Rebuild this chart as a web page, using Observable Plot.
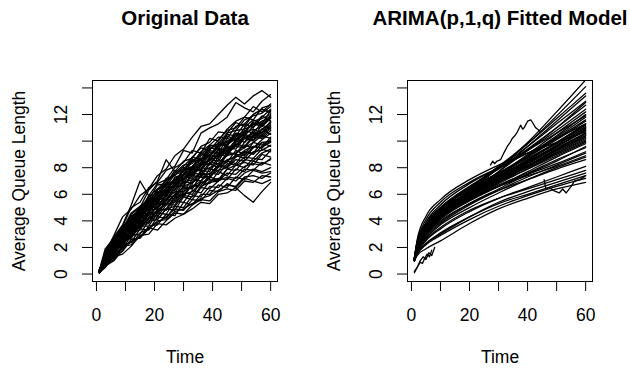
<!DOCTYPE html>
<html><head><meta charset="utf-8">
<script src="https://cdn.jsdelivr.net/npm/d3@7"></script>
<script src="https://cdn.jsdelivr.net/npm/@observablehq/plot@0.6"></script>
<style>
body{margin:0;background:#fff;}
#chart{display:flex;width:630px;height:369px;background:#fff;}
</style></head><body><div id="chart"></div>
<script>
// ---- Titles & axis text ----
const leftTitle = "Original Data";
const rightTitle = "ARIMA(p,1,q) Fitted Model";
const xTitle = "Time";
const yTitle = "Average Queue Length";
const xTicks = [0, 10, 20, 30, 40, 50, 60];
const xTickLabels = [0, 20, 40, 60];
const yTicks = [0, 2, 4, 6, 8, 10, 12, 14];
const yTickLabels = [0, 2, 4, 6, 8, 12];

// ---- Original data (read at every 3 time units) ----
const obsTimes = [1,3,6,9,12,15,18,21,24,27,30,33,36,39,42,45,48,51,54,57,60];
const obs01 = [0.2,1.6,2.9,4.3,4.9,5.9,6.4,7.4,7.9,8.9,9.4,10.3,11.1,11.3,12.0,12.7,13.3,12.8,13.4,13.8,13.3];
const obs02 = [0.3,1.9,2.7,3.6,5.0,5.4,6.5,6.9,7.8,8.1,9.3,9.1,10.6,11.0,11.3,11.8,12.9,12.5,12.2,13.0,13.5];
const obs03 = [0.2,1.3,2.8,3.7,5.2,7.0,5.9,6.8,7.1,8.0,8.4,9.3,9.1,10.2,10.0,10.9,11.5,11.8,12.6,12.2,12.8];
const obs04 = [0.1,1.2,2.5,3.3,4.5,5.0,6.3,7.0,8.6,7.7,8.5,8.7,9.6,9.9,10.7,10.6,11.4,11.1,12.0,12.4,12.1];
const obs05 = [0.2,1.4,2.1,3.5,3.9,5.1,5.3,6.4,6.6,7.5,7.7,8.6,8.5,9.5,9.4,10.4,10.1,11.0,11.6,11.3,12.3];
const obs06 = [0.3,1.2,2.4,2.9,4.2,4.4,5.7,5.7,6.8,7.0,7.8,8.0,9.1,8.8,9.9,9.7,10.8,10.9,11.2,11.9,11.5];
const obs07 = [0.2,1.0,2.2,3.4,3.6,4.8,5.0,6.1,6.2,7.1,7.2,7.9,8.1,9.0,8.8,9.7,10.2,9.9,10.8,11.1,11.7];
const obs08 = [0.1,1.3,1.9,3.1,4.0,4.3,5.3,5.6,6.5,6.5,7.6,7.6,8.4,8.9,9.5,9.2,10.0,10.5,10.3,11.2,10.9];
const obs09 = [0.2,0.9,2.3,2.7,3.8,4.6,4.8,5.9,5.9,6.9,6.8,7.9,7.8,8.6,8.5,9.5,9.4,10.2,10.6,10.4,11.3];
const obs10 = [0.3,1.1,1.8,3.0,3.4,4.1,5.2,5.3,6.4,6.3,7.4,7.2,8.3,8.2,9.0,8.9,9.8,9.6,10.4,10.9,10.5];
const obs11 = [0.2,1.2,2.0,2.6,3.7,3.9,4.7,5.7,5.6,6.6,6.7,7.4,7.3,8.3,8.0,9.0,9.1,9.7,9.5,10.1,10.6];
const obs12 = [0.1,0.8,2.1,2.8,3.2,4.2,4.4,5.1,5.9,5.8,7.0,6.8,7.8,7.7,8.6,8.4,9.3,9.0,9.9,9.7,10.1];
const obs13 = [0.2,1.0,1.6,2.5,3.5,3.7,4.8,4.9,5.6,6.2,6.2,7.1,7.0,7.9,7.8,8.5,8.9,8.7,9.5,9.9,9.6];
const obs14 = [0.2,1.1,1.7,2.8,3.0,4.0,4.2,5.3,5.2,6.0,6.5,6.4,7.4,7.3,8.1,8.0,8.8,9.2,9.0,9.6,9.9];
const obs15 = [0.1,0.7,1.9,2.3,3.3,3.5,4.5,4.6,5.5,5.5,6.4,6.5,7.0,7.6,7.5,8.3,8.2,8.8,8.7,9.4,9.2];
const obs16 = [0.3,0.9,1.5,2.5,2.8,3.8,3.9,4.8,4.9,5.8,5.8,6.7,6.5,7.3,7.1,7.9,8.2,8.0,8.7,8.6,9.3];
const obs17 = [0.2,0.8,1.8,2.1,3.1,3.3,4.3,4.3,5.2,5.2,6.1,6.0,6.9,6.8,7.7,7.4,8.2,8.4,8.2,9.0,8.8];
const obs18 = [0.2,1.0,1.4,2.4,2.7,3.6,3.6,4.6,4.5,5.5,5.4,6.3,6.1,7.0,7.2,7.1,7.9,7.7,8.5,8.3,8.6];
const obs19 = [0.1,0.6,1.6,1.9,2.9,3.0,4.0,4.1,4.9,4.8,5.8,5.6,6.5,6.4,7.0,7.3,7.2,7.9,7.8,8.4,8.2];
const obs20 = [0.2,0.8,1.2,2.2,2.4,3.4,3.3,4.3,4.2,5.1,5.0,5.9,5.8,6.6,6.5,7.2,7.0,7.6,7.9,7.7,8.0];
const obs21 = [0.2,0.5,1.4,1.7,2.6,2.7,3.6,3.7,4.5,4.4,5.4,5.2,6.0,6.0,6.7,6.5,7.3,7.1,7.8,7.6,7.7];
const obs22 = [0.1,0.7,1.1,2.0,2.4,2.8,3.5,3.3,4.0,4.6,4.5,5.2,5.6,5.5,6.2,6.4,6.3,7.0,6.9,7.4,7.3];
const obs23 = [0.1,0.5,1.3,1.5,2.1,2.9,3.0,3.8,3.7,4.2,4.5,4.9,5.4,5.3,6.0,6.1,6.5,5.9,5.4,6.2,6.9];
const obs24 = [0.2,0.6,1.0,1.8,2.6,2.7,3.4,3.9,4.3,4.9,4.8,5.6,5.5,6.3,6.2,6.8,6.5,7.2,7.0,6.8,7.1];
const obs25 = [0.2,1.5,2.6,3.2,4.4,4.7,5.9,6.0,7.2,7.4,8.1,8.8,8.6,9.7,9.6,10.5,10.4,11.3,11.0,11.8,12.4];
const obs26 = [0.3,1.0,2.4,3.3,3.8,4.9,5.5,5.9,6.9,6.8,8.0,7.8,8.9,9.3,9.1,10.2,10.0,10.7,11.4,11.2,11.9];
const obs27 = [0.2,1.3,1.8,2.9,3.9,4.1,5.0,5.9,6.0,6.9,7.5,7.4,8.2,8.6,9.3,9.0,9.9,10.3,10.1,10.9,11.4];
const obs28 = [0.1,1.2,2.0,3.0,3.4,4.5,4.6,5.5,6.2,6.1,7.1,7.6,7.5,8.4,8.3,9.1,9.6,9.5,10.3,10.2,10.8];
const obs29 = [0.2,0.9,1.7,2.6,3.3,3.6,4.6,4.7,5.3,6.0,5.9,6.9,7.3,7.2,8.1,8.5,8.3,9.2,9.1,9.9,10.0];
const obs30 = [0.2,1.1,1.6,2.7,2.9,3.9,4.5,4.4,5.6,5.7,6.6,6.4,7.5,7.5,8.2,8.1,9.0,8.9,9.6,9.5,10.3];
const obs31 = [0.1,0.8,1.9,2.2,3.1,3.7,3.8,4.9,4.8,5.7,6.0,6.2,6.9,7.1,7.0,7.9,7.8,8.6,8.5,9.1,9.4];
const obs32 = [0.3,1.4,2.3,3.2,3.5,4.6,5.1,5.0,6.1,6.7,6.6,7.6,8.0,7.9,8.8,9.2,9.0,9.9,10.5,10.3,11.0];
const obs33 = [0.2,1.1,2.5,3.6,4.2,4.5,5.6,6.2,6.1,7.3,7.5,8.5,8.3,9.4,9.8,9.6,10.6,10.5,11.5,11.7,12.0];
const obs34 = [0.2,1.7,2.7,3.4,4.6,5.1,5.6,6.7,6.8,7.8,7.7,8.8,9.5,9.3,10.1,10.8,11.0,11.8,11.6,12.5,12.7];
const obs35 = [0.1,1.0,1.6,2.4,3.0,3.5,4.2,4.1,4.9,5.1,5.9,5.8,6.6,6.9,7.0,7.6,7.5,8.1,8.3,8.2,8.7];
const obs36 = [0.2,0.7,1.3,2.1,2.2,3.1,3.4,4.0,4.1,4.7,4.9,5.3,5.7,5.9,6.3,6.7,6.6,7.3,7.4,7.2,7.6];
const obs37 = [0.2,1.3,2.2,3.3,3.9,4.8,5.2,6.0,6.7,6.9,7.8,8.1,8.6,9.0,9.6,9.9,10.5,10.4,11.1,11.5,11.8];
const obs38 = [0.3,1.0,2.0,2.9,3.8,4.4,4.9,5.8,6.0,6.8,7.2,7.5,8.2,8.3,9.1,9.3,9.7,10.2,10.0,10.7,11.1];
const obs39 = [0.1,1.4,2.3,3.0,4.1,4.4,5.4,5.5,6.5,7.1,7.0,8.0,8.4,8.5,9.4,9.3,10.1,10.6,10.9,10.6,11.5];
const obs40 = [0.2,0.9,1.8,2.8,3.2,4.2,4.6,5.4,5.5,6.4,6.9,7.1,7.7,8.0,8.3,8.9,9.1,9.5,9.9,10.4,10.2];
const obs41 = [0.2,1.2,2.3,2.9,3.6,4.5,5.2,5.5,6.5,6.6,7.5,7.9,8.3,9.2,9.0,9.8,10.3,10.8,10.6,11.4,11.9];
const obs42 = [0.3,1.5,2.4,3.5,4.0,5.0,5.4,6.3,6.8,7.6,7.9,8.5,9.0,9.6,9.8,10.6,10.8,11.6,11.9,12.1,12.6];
const obs43 = [0.1,1.1,1.8,2.5,3.4,3.8,4.5,5.0,5.7,5.9,6.6,6.9,7.6,7.5,8.2,8.6,8.8,9.3,9.6,9.5,10.0];
const obs44 = [0.2,1.0,2.0,3.1,3.5,4.3,5.0,5.3,6.3,6.6,7.2,7.7,7.9,8.8,8.9,9.5,9.7,10.4,10.3,10.9,11.2];
const obs45 = [0.2,1.6,2.6,3.4,4.3,4.9,5.8,6.4,7.0,7.6,8.2,8.3,9.2,9.7,10.3,10.2,11.1,11.3,12.0,12.4,12.2];
const obs46 = [0.1,0.8,1.7,2.3,3.1,3.6,4.1,4.8,5.3,5.4,6.2,6.6,6.7,7.4,7.8,8.0,8.6,8.5,9.2,9.3,9.7];
const obs47 = [0.3,1.2,2.1,3.0,3.9,4.1,5.1,5.6,5.8,6.8,7.1,7.7,7.8,8.7,8.7,9.6,9.6,10.2,10.7,10.5,11.0];
const obs48 = [0.2,1.3,2.6,3.1,4.3,4.6,5.3,6.1,6.4,7.2,7.5,8.1,8.7,8.9,9.7,10.0,10.4,10.7,11.3,11.1,11.8];
const observed = [obs01,obs02,obs03,obs04,obs05,obs06,obs07,obs08,obs09,obs10,obs11,obs12,
  obs13,obs14,obs15,obs16,obs17,obs18,obs19,obs20,obs21,obs22,obs23,obs24,
  obs25,obs26,obs27,obs28,obs29,obs30,obs31,obs32,obs33,obs34,obs35,obs36,
  obs37,obs38,obs39,obs40,obs41,obs42,obs43,obs44,obs45,obs46,obs47,obs48];

// ---- Fitted model curves ----
const fitTimes = [1,2,5,10,20,30,40,50,60];
const fit01 = [1.05,2.6,4.35,5.6,7.1,8.2,9.1,9.9,10.7];
const fit02 = [1.1,2.4,4.1,5.4,6.9,8.0,9.1,10.2,11.3];
const fit03 = [1.0,2.3,3.9,5.2,6.8,8.0,9.3,10.6,11.9];
const fit04 = [1.1,2.2,3.8,5.0,6.6,7.9,9.3,10.8,12.4];
const fit05 = [1.0,1.8,3.1,4.4,6.2,8.0,9.9,12.2,14.6];
const fit06 = [1.1,1.9,3.2,4.5,6.3,8.0,9.8,11.9,14.1];
const fit07 = [1.0,2.0,3.4,4.7,6.5,8.1,9.8,11.7,13.6];
const fit08 = [1.1,1.8,3.0,4.2,6.0,7.7,9.6,11.5,13.4];
const fit09 = [1.0,2.1,3.5,4.8,6.5,8.0,9.6,11.3,13.0];
const fit10 = [1.2,2.2,3.6,4.9,6.5,7.9,9.4,11.0,12.7];
const fit11 = [1.0,1.9,3.2,4.5,6.2,7.7,9.3,11.0,12.9];
const fit12 = [1.1,2.3,3.6,4.9,6.4,7.6,8.9,10.3,11.8];
const fit13 = [1.0,2.2,3.4,4.7,6.2,7.5,8.8,10.1,11.5];
const fit14 = [1.2,2.5,3.8,5.0,6.5,7.6,8.7,9.9,11.1];
const fit15 = [1.0,2.1,3.3,4.5,6.0,7.3,8.6,9.9,11.3];
const fit16 = [1.1,2.4,3.7,4.9,6.3,7.4,8.5,9.6,10.8];
const fit17 = [1.0,2.0,3.2,4.3,5.8,7.1,8.4,9.7,11.0];
const fit18 = [1.1,2.3,3.5,4.7,6.1,7.2,8.3,9.4,10.5];
const fit19 = [1.0,2.1,3.3,4.4,5.8,7.0,8.1,9.3,10.4];
const fit20 = [1.2,2.4,3.6,4.8,6.1,7.1,8.0,9.0,10.0];
const fit21 = [1.0,2.0,3.1,4.2,5.6,6.8,7.9,9.1,10.2];
const fit22 = [1.1,2.2,3.4,4.5,5.8,6.9,7.9,8.9,9.9];
const fit23 = [1.0,1.9,3.0,4.1,5.5,6.6,7.7,8.8,9.8];
const fit24 = [1.1,2.1,3.2,4.3,5.6,6.7,7.6,8.6,9.5];
const fit25 = [1.0,1.9,2.9,3.9,5.3,6.4,7.5,8.5,9.6];
const fit26 = [1.1,2.2,3.3,4.4,5.6,6.6,7.5,8.3,9.2];
const fit27 = [1.0,1.8,2.8,3.8,5.2,6.3,7.3,8.2,9.1];
const fit28 = [1.2,2.3,3.4,4.5,5.7,6.6,7.4,8.1,8.9];
const fit29 = [1.0,1.8,2.7,3.7,5.0,6.1,7.1,8.0,8.8];
const fit30 = [1.1,2.0,3.0,4.0,5.3,6.3,7.1,7.9,8.6];
const fit31 = [1.0,1.6,2.5,3.4,4.7,5.7,6.5,7.3,8.1];
const fit32 = [1.1,1.7,2.6,3.5,4.8,5.7,6.4,7.1,7.8];
const fit33 = [1.0,1.5,2.3,3.0,4.3,5.4,6.2,6.9,7.6];
const fit34 = [1.0,1.6,2.3,3.1,4.3,5.3,6.0,6.7,7.4];
const fit35 = [1.1,1.5,2.2,2.9,4.1,5.1,5.9,6.6,7.2];
const fit36 = [1.0,1.4,1.9,2.5,3.8,4.9,5.7,6.4,6.9];
const fit37 = [1.1,2.2,3.5,4.7,6.2,7.4,8.6,9.8,11.0];
const fit38 = [1.0,2.0,3.3,4.6,6.1,7.4,8.8,10.2,11.6];
const fit39 = [1.1,2.1,3.4,4.6,6.0,7.2,8.4,9.6,10.8];
const fit40 = [1.0,1.9,3.1,4.3,5.9,7.2,8.5,9.9,11.2];
const fit41 = [1.2,2.3,3.5,4.7,6.1,7.3,8.4,9.5,10.6];
const fit42 = [1.0,2.0,3.2,4.4,5.9,7.1,8.2,9.3,10.4];
const fit43 = [1.1,2.0,3.2,4.4,6.0,7.4,8.9,10.4,12.0];
const fit44 = [1.0,1.8,3.0,4.2,5.7,7.0,8.3,9.6,10.9];
const fit45 = [1.1,2.1,3.3,4.5,5.9,7.0,8.1,9.2,10.3];
const fit46 = [1.0,1.9,3.1,4.2,5.6,6.9,8.1,9.4,10.6];
const fit47 = [1.2,2.2,3.4,4.6,6.0,7.1,8.1,9.1,10.1];
const fit48 = [1.0,2.0,3.3,4.5,6.1,7.5,9.0,10.6,12.2];
const fitted = [fit01,fit02,fit03,fit04,fit05,fit06,fit07,fit08,fit09,fit10,fit11,fit12,
  fit13,fit14,fit15,fit16,fit17,fit18,fit19,fit20,fit21,fit22,fit23,fit24,
  fit25,fit26,fit27,fit28,fit29,fit30,fit31,fit32,fit33,fit34,fit35,fit36,
  fit37,fit38,fit39,fit40,fit41,fit42,fit43,fit44,fit45,fit46,fit47,fit48];

// ---- Raw segments visible in the fitted panel ----
const rawATimes = [27.2,28.0,28.6,29.5,30.7,31.8,33.0,34.0,34.7,35.6,36.5,37.6,38.3,38.8,40.0,41.1,41.7,42.8,44.5];
const rawAValues = [8.2,8.5,8.3,8.5,8.6,9.1,9.6,9.9,10.2,10.4,10.7,11.2,10.9,11.0,11.5,11.6,11.4,11.0,10.7];
const rawBTimes = [45.7,46.3,47.5,49.2,50.9,52.1,53.3,55.0,56.2,57.9,59.1,60];
const rawBValues = [7.1,6.4,6.5,6.25,6.1,6.4,6.1,6.6,7.0,7.1,7.25,7.4];
const rawCTimes = [1,1.5,2.2,3,3.8,4.6,5.4,6.2,7];
const rawCValues = [0.1,0.3,0.6,0.9,0.8,1.2,1.5,1.3,1.8];
const rawDTimes = [1,2,3,4,5,6,7,8];
const rawDValues = [0.2,0.5,1.0,1.3,1.1,1.6,1.4,2.0];

// ---- build tables ----
const leftRows = observed.flatMap((s, i) => s.map((v, j) => ({id: i, t: obsTimes[j], v})));
const fitRows = fitted.flatMap((s, i) => s.map((v, j) => ({id: i, t: fitTimes[j], v})));
const rawRows = [[rawATimes, rawAValues], [rawBTimes, rawBValues], [rawCTimes, rawCValues], [rawDTimes, rawDValues]]
  .flatMap(([ts, vs], i) => ts.map((t, j) => ({id: i, t, v: vs[j]})));

const font = "'Liberation Sans', Arial, Helvetica, sans-serif";

function panel(title, lineMarks) {
  return Plot.plot({
    width: 315, height: 369,
    marginLeft: 92, marginRight: 38, marginTop: 80, marginBottom: 88,
    style: {fontFamily: font, fontSize: "17.5px", color: "black", background: "white", overflow: "visible"},
    x: {domain: [-1.36, 62.36]},
    y: {domain: [-0.56, 14.56]},
    marks: [
      ...lineMarks,
      Plot.frame({stroke: "black", strokeWidth: 1}),
      Plot.axisX({ticks: xTicks, tickSize: 10, tickPadding: 17, label: null,
        tickFormat: d => xTickLabels.includes(d) ? String(d) : ""}),
      Plot.axisY({ticks: yTicks, tickSize: 10, tickPadding: 16, tickRotate: -90, label: null,
        tickFormat: d => yTickLabels.includes(d) ? String(d) : ""}),
      Plot.text([title], {text: d => d, frameAnchor: "top", dy: -56, lineAnchor: "bottom",
        fontWeight: "bold", fontSize: 20.5}),
      Plot.text([xTitle], {text: d => d, frameAnchor: "bottom", dy: 69, lineAnchor: "top"}),
      Plot.text([yTitle], {text: d => d, frameAnchor: "left", dx: -73, rotate: -90, textAnchor: "middle"})
    ]
  });
}

const left = panel(leftTitle, [
  Plot.line(leftRows, {x: "t", y: "v", z: "id", stroke: "black", strokeWidth: 1.3, clip: true})
]);
const right = panel(rightTitle, [
  Plot.line(fitRows, {x: "t", y: "v", z: "id", stroke: "black", strokeWidth: 1.3, curve: "monotone-x", clip: true}),
  Plot.line(rawRows, {x: "t", y: "v", z: "id", stroke: "black", strokeWidth: 1.3, clip: true})
]);
document.getElementById("chart").append(left, right);
</script>
</body></html>
